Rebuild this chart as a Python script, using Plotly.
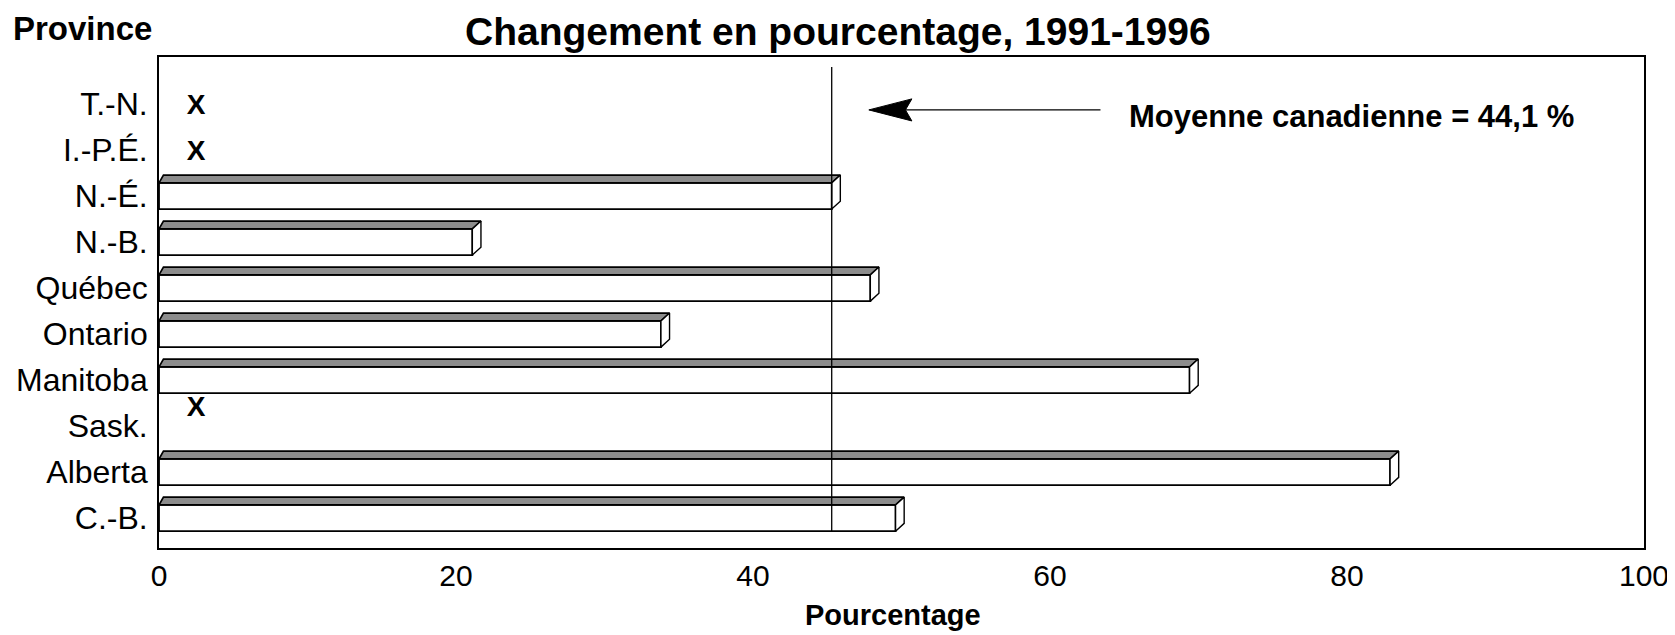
import plotly.graph_objects as go

# ---- data ----
provinces = ["T.-N.", "I.-P.É.", "N.-É.", "N.-B.", "Québec", "Ontario",
             "Manitoba", "Sask.", "Alberta", "C.-B."]
pct_change = [None, None, 45.3, 21.1, 47.9, 33.8, 69.4, None, 82.9, 49.6]
suppressed = ["T.-N.", "I.-P.É.", "Sask."]          # shown as "X"
mean_label = "Moyenne canadienne = 44,1 %"
mean_line_position = 45.3
x_ticks = [0, 20, 40, 60, 80, 100]

title_text = "Changement en pourcentage, 1991-1996"
x_title = "Pourcentage"
y_title = "Province"

# ---- styling / geometry ----
FONT = "Liberation Sans, Arial, sans-serif"
BAR_H = 0.57       # front-face height in category units
DEPTH_X = 0.58     # 3-D depth, x data units
DEPTH_Y = 0.17     # 3-D depth, category units
PLOT_H = 491
PLOT_W = 1485
idx = list(range(len(provinces)))

fig = go.Figure()

# front faces
fig.add_trace(go.Bar(
    orientation="h", y=idx, x=pct_change, width=BAR_H,
    marker=dict(color="white", line=dict(color="black", width=1.8)),
    hoverinfo="x", showlegend=False))

# top faces and side faces built from the values
top_x, top_y, side_x, side_y = [], [], [], []
for i, v in zip(idx, pct_change):
    if v is None:
        continue
    yt = i - BAR_H / 2
    yb = i + BAR_H / 2
    top_x += [0, v, v + DEPTH_X, 0.3, 0, None]
    top_y += [yt, yt, yt - DEPTH_Y, yt - DEPTH_Y, yt, None]
    side_x += [v, v + DEPTH_X, v + DEPTH_X, v, v, None]
    side_y += [yt, yt - DEPTH_Y, yb - DEPTH_Y, yb, yt, None]

fig.add_trace(go.Scatter(x=top_x, y=top_y, mode="lines", fill="toself",
                         fillcolor="#8c8c8c", line=dict(color="black", width=1.7),
                         hoverinfo="skip", showlegend=False))
fig.add_trace(go.Scatter(x=side_x, y=side_y, mode="lines", fill="toself",
                         fillcolor="white", line=dict(color="black", width=1.4),
                         hoverinfo="skip", showlegend=False))

# suppressed markers "X"
x_off = {"T.-N.": 0.06, "I.-P.É.": 0.06, "Sask.": -0.37}
fig.add_trace(go.Scatter(
    x=[2.5] * len(suppressed),
    y=[provinces.index(p) + x_off[p] for p in suppressed],
    mode="text", text=["X"] * len(suppressed),
    textfont=dict(family=FONT, size=28, color="black", weight="bold"),
    hoverinfo="skip", showlegend=False))

# mean vertical line
last = len(provinces) - 1
fig.add_shape(type="line", x0=mean_line_position, x1=mean_line_position,
              y0=-0.8, y1=last + BAR_H / 2, xref="x", yref="y",
              line=dict(color="black", width=1.3))

# arrow pointing to the line
tip_x, tail_x, arrow_y = 47.8, 63.4, 0.13
head_len, head_half = 2.9, 0.24
fig.add_trace(go.Scatter(x=[tip_x + head_len * 0.8, tail_x], y=[arrow_y, arrow_y],
                         mode="lines", line=dict(color="black", width=1.4),
                         hoverinfo="skip", showlegend=False))
fig.add_trace(go.Scatter(
    x=[tip_x, tip_x + head_len, tip_x + head_len * 0.85, tip_x + head_len, tip_x],
    y=[arrow_y, arrow_y - head_half, arrow_y, arrow_y + head_half, arrow_y],
    mode="lines", fill="toself", fillcolor="black",
    line=dict(color="black", width=1), hoverinfo="skip", showlegend=False))

fig.add_annotation(x=65.2, y=0.27, xref="x", yref="y", text=mean_label,
                   showarrow=False, xanchor="left", yanchor="middle",
                   font=dict(family=FONT, size=31, color="black", weight="bold"))

# titles
fig.add_annotation(x=0.457, y=1 + 49 / PLOT_H, xref="paper", yref="paper",
                   text=title_text, showarrow=False, xanchor="center",
                   yanchor="top",
                   font=dict(family=FONT, size=39, color="black", weight="bold"))
fig.add_annotation(x=-148 / PLOT_W, y=1 + 28 / PLOT_H, xref="paper", yref="paper",
                   text=y_title, showarrow=False, xanchor="left",
                   yanchor="middle",
                   font=dict(family=FONT, size=33, color="black", weight="bold"))
fig.add_annotation(x=0.494, y=-67 / PLOT_H, xref="paper", yref="paper",
                   text=x_title, showarrow=False, xanchor="center",
                   yanchor="middle",
                   font=dict(family=FONT, size=29, color="black", weight="bold"))

fig.update_xaxes(range=[0, 100], tickvals=x_ticks, ticks="", automargin=False,
                 showgrid=False, zeroline=False,
                 showline=True, linecolor="black", linewidth=1.8, mirror=True,
                 tickfont=dict(family=FONT, size=30, color="black"))
fig.update_yaxes(range=[9.65, -1.02], tickvals=idx, ticktext=provinces,
                 ticks="", automargin=False, ticklabelstandoff=3,
                 showgrid=False, zeroline=False,
                 showline=True, linecolor="black", linewidth=1.8, mirror=True,
                 tickfont=dict(family=FONT, size=32, color="black"))

# page body has an 8px margin, so the figure is 8px smaller than the window
fig.update_layout(width=1667, height=627,
                  margin=dict(l=151, r=31, t=49, b=87),
                  plot_bgcolor="white", paper_bgcolor="white",
                  bargap=0.3)

fig.write_html("out.html")
